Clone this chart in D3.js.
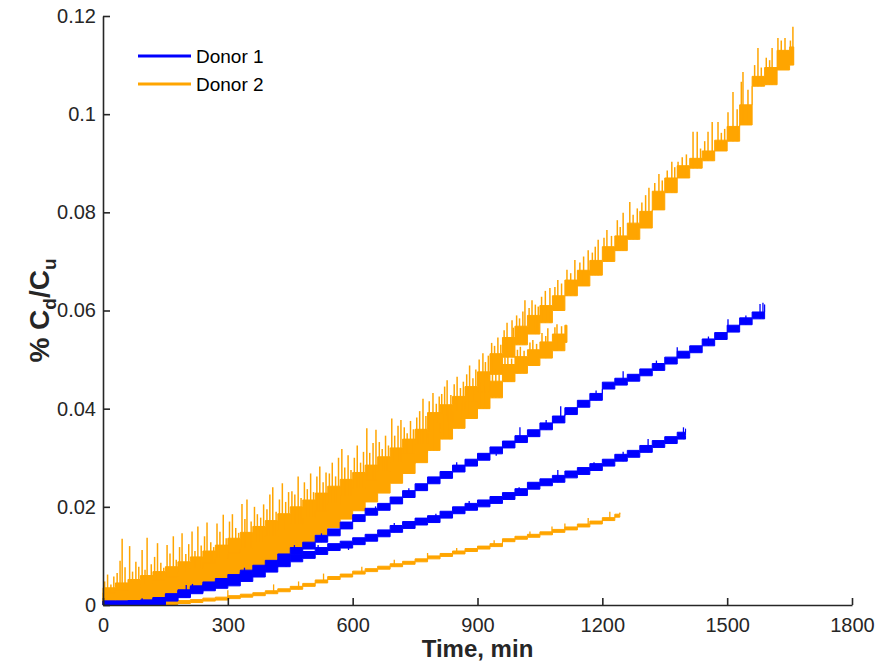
<!DOCTYPE html>
<html>
<head>
<meta charset="utf-8">
<script src="https://cdn.jsdelivr.net/npm/d3@7"></script>
<style>
  html, body { margin: 0; padding: 0; background: #fff; }
  svg { display: block; font-family: "Liberation Sans", Arial, Helvetica, sans-serif; }
</style>
</head>
<body>
<svg id="chart" width="880" height="664"></svg>
<script>
// Axis ticks
const xTicks = [0, 300, 600, 900, 1200, 1500, 1800];
const yTicks = [0, 0.02, 0.04, 0.06, 0.08, 0.1, 0.12];
const yTickLabels = ["0", "0.02", "0.04", "0.06", "0.08", "0.1", "0.12"];

// Legend entries
const seriesNames = ["Donor 1", "Donor 2"];

// Each run: [time (min), lower edge of the noise band, upper edge of the band]
const donor1RunA = [
  [0,0,0.0008],[30,0,0.0008],[60,0,0.0009],[90,0,0.0010],[120,0.0001,0.0015],[150,0.0009,0.0023],
  [180,0.0017,0.0031],[210,0.0025,0.0039],[240,0.0033,0.0047],[270,0.0040,0.0054],[300,0.0048,0.0062],
  [330,0.0057,0.0071],[360,0.0067,0.0081],[390,0.0077,0.0091],[420,0.0090,0.0104],[450,0.0103,0.0117],
  [480,0.0114,0.0128],[510,0.0128,0.0142],[540,0.0141,0.0155],[570,0.0155,0.0169],[600,0.0170,0.0184],
  [630,0.0183,0.0197],[660,0.0193,0.0207],[690,0.0206,0.0220],[720,0.0219,0.0233],[750,0.0233,0.0247],
  [780,0.0247,0.0261],[810,0.0258,0.0272],[840,0.0271,0.0285],[870,0.0283,0.0297],[900,0.0295,0.0309],
  [930,0.0308,0.0322],[960,0.0320,0.0334],[990,0.0331,0.0345],[1020,0.0343,0.0357],[1050,0.0357,0.0371],
  [1080,0.0371,0.0385],[1110,0.0388,0.0402],[1140,0.0403,0.0417],[1170,0.0417,0.0431],[1200,0.0440,0.0454],
  [1230,0.0448,0.0462],[1260,0.0456,0.0470],[1290,0.0467,0.0481],[1320,0.0478,0.0492],[1350,0.0491,0.0505],
  [1380,0.0503,0.0517],[1410,0.0514,0.0528],[1440,0.0528,0.0542],[1470,0.0541,0.0555],[1500,0.0556,0.0570],
  [1530,0.0571,0.0585],[1560,0.0583,0.0597],[1590,0.0598,0.0612]
];
const donor1RunB = [
  [0,0,0.0008],[30,0,0.0008],[60,0,0.0008],[90,0,0.0010],[120,0.0001,0.0015],[150,0.0008,0.0022],
  [180,0.0015,0.0029],[210,0.0023,0.0037],[240,0.0029,0.0043],[270,0.0034,0.0048],[300,0.0039,0.0053],
  [330,0.0048,0.0062],[360,0.0057,0.0071],[390,0.0067,0.0081],[420,0.0078,0.0092],[450,0.0088,0.0102],
  [480,0.0095,0.0109],[510,0.0103,0.0117],[540,0.0111,0.0125],[570,0.0116,0.0130],[600,0.0123,0.0137],
  [630,0.0130,0.0144],[660,0.0139,0.0153],[690,0.0148,0.0162],[720,0.0156,0.0170],[750,0.0163,0.0177],
  [780,0.0168,0.0182],[810,0.0177,0.0191],[840,0.0186,0.0200],[870,0.0193,0.0207],[900,0.0200,0.0214],
  [930,0.0207,0.0221],[960,0.0215,0.0229],[990,0.0223,0.0237],[1020,0.0236,0.0250],[1050,0.0243,0.0257],
  [1080,0.0250,0.0264],[1110,0.0259,0.0273],[1140,0.0266,0.0280],[1170,0.0274,0.0288],[1200,0.0283,0.0297],
  [1230,0.0293,0.0307],[1260,0.0301,0.0315],[1290,0.0311,0.0325],[1320,0.0321,0.0335],[1350,0.0329,0.0343],
  [1380,0.0338,0.0352],[1400,0.0345,0.0359]
];
const donor2RunA = [
  [0,0,0.0035],[30,0.0003,0.0045],[60,0.0007,0.0052],[90,0.0012,0.0060],[120,0.0018,0.0068],[150,0.0025,0.0078],
  [180,0.0033,0.0088],[210,0.0042,0.0098],[240,0.0052,0.0110],[270,0.0062,0.0122],[300,0.0072,0.0136],
  [330,0.0082,0.0148],[360,0.0094,0.0160],[390,0.0106,0.0172],[420,0.0120,0.0186],[450,0.0135,0.0200],
  [480,0.0150,0.0214],[510,0.0166,0.0228],[540,0.0182,0.0242],[570,0.0198,0.0256],[600,0.0215,0.0270],
  [630,0.0232,0.0285],[660,0.0250,0.0302],[690,0.0268,0.0320],[720,0.0288,0.0338],[750,0.0310,0.0358],
  [780,0.0340,0.0392],[810,0.0360,0.0408],[840,0.0380,0.0425],[870,0.0400,0.0445],[900,0.0430,0.0475],
  [930,0.0470,0.0512],[960,0.0505,0.0545],[990,0.0530,0.0568],[1020,0.0552,0.0590],[1050,0.0575,0.0610],
  [1080,0.0600,0.0630],[1110,0.0630,0.0662],[1140,0.0650,0.0682],[1170,0.0672,0.0702],[1200,0.0700,0.0730],
  [1230,0.0722,0.0752],[1260,0.0745,0.0778],[1290,0.0768,0.0802],[1320,0.0805,0.0843],[1350,0.0840,0.0870],
  [1380,0.0870,0.0895],[1410,0.0890,0.0910],[1440,0.0905,0.0925],[1470,0.0925,0.0947],[1500,0.0945,0.0975],
  [1530,0.0978,0.1019],[1560,0.1057,0.1077],[1590,0.1060,0.1095],[1620,0.1090,0.1130],[1650,0.1100,0.1137],
  [1660,0.1100,0.1137]
];
const donor2RunB = [
  [0,0,0.0025],[30,0,0.0030],[60,0.0002,0.0036],[90,0.0005,0.0042],[120,0.0009,0.0050],[150,0.0014,0.0058],
  [180,0.0021,0.0066],[210,0.0028,0.0075],[240,0.0037,0.0085],[270,0.0046,0.0095],[300,0.0056,0.0105],
  [330,0.0066,0.0116],[360,0.0077,0.0128],[390,0.0089,0.0140],[420,0.0101,0.0152],[450,0.0114,0.0165],
  [480,0.0128,0.0178],[510,0.0143,0.0192],[540,0.0158,0.0206],[570,0.0175,0.0222],[600,0.0192,0.0238],
  [630,0.0210,0.0255],[660,0.0228,0.0272],[690,0.0248,0.0290],[720,0.0268,0.0308],[750,0.0290,0.0328],
  [780,0.0315,0.0352],[810,0.0338,0.0372],[840,0.0360,0.0395],[870,0.0380,0.0414],[900,0.0400,0.0434],
  [930,0.0422,0.0456],[960,0.0455,0.0490],[990,0.0472,0.0506],[1020,0.0488,0.0520],[1050,0.0503,0.0536],
  [1080,0.0518,0.0552],[1110,0.0535,0.0570],[1115,0.0535,0.0570]
];
const donor2RunC = [
  [60,0,0.0004],[90,0,0.0005],[120,0,0.0005],[150,0.0001,0.0007],[180,0.0003,0.0009],[210,0.0005,0.0011],
  [240,0.0008,0.0014],[270,0.0010,0.0016],[300,0.0013,0.0019],[330,0.0016,0.0022],[360,0.0019,0.0025],
  [390,0.0023,0.0029],[420,0.0027,0.0033],[450,0.0032,0.0038],[480,0.0038,0.0044],[510,0.0045,0.0051],
  [540,0.0052,0.0058],[570,0.0057,0.0063],[600,0.0063,0.0069],[630,0.0068,0.0074],[660,0.0073,0.0079],
  [690,0.0078,0.0084],[720,0.0083,0.0089],[750,0.0088,0.0094],[780,0.0094,0.0100],[810,0.0099,0.0105],
  [840,0.0104,0.0110],[870,0.0109,0.0115],[900,0.0114,0.0120],[930,0.0119,0.0125],[960,0.0129,0.0135],
  [990,0.0134,0.0140],[1020,0.0138,0.0144],[1050,0.0143,0.0149],[1080,0.0148,0.0154],[1110,0.0153,0.0159],
  [1140,0.0159,0.0165],[1170,0.0165,0.0171],[1200,0.0172,0.0178],[1230,0.0179,0.0185],[1242,0.0182,0.0188]
];

// Short transient excursions: [time (min), peak value]
const donor1PeaksA = [
  [94,0.0014],[215,0.0043],[340,0.0076],[460,0.0122],[525,0.0146],[655,0.0201],[735,0.0238],[850,0.0291],
  [945,0.0304],[1002,0.0362],[1065,0.0377],[1100,0.0405],[1185,0.0437],[1250,0.0476],[1330,0.0498],
  [1380,0.0525],[1455,0.0547],[1502,0.0582],[1545,0.0590],[1579,0.0613],[1586,0.0616]
];
const donor1PeaksB = [
  [200,0.0041],[330,0.0066],[440,0.0097],[517,0.0122],[590,0.0112],[700,0.0167],[800,0.0186],[880,0.0212],
  [1000,0.0240],[1093,0.0275],[1180,0.0291],[1250,0.0312],[1310,0.0338],[1395,0.0362]
];
const donor2PeaksA = [
  [4,0.0048],[11,0.0062],[19,0.0042],[26,0.0058],[34,0.0065],[41,0.0090],[46,0.0135],[53,0.0077],
  [64,0.0120],[71,0.0068],[79,0.0088],[86,0.0078],[94,0.0112],[101,0.0072],[106,0.0137],[116,0.0083],
  [124,0.0098],[131,0.0126],[139,0.0086],[146,0.0076],[154,0.0122],[161,0.0105],[169,0.0140],[176,0.0092],
  [184,0.0118],[190,0.0146],[199,0.0104],[206,0.0124],[214,0.0150],[221,0.0110],[228,0.0160],[236,0.0121],
  [244,0.0140],[250,0.0168],[259,0.0128],[266,0.0118],[274,0.0166],[281,0.0149],[289,0.0184],[296,0.0136],
  [304,0.0170],[311,0.0185],[319,0.0157],[326,0.0147],[334,0.0206],[341,0.0175],[346,0.0215],[356,0.0170],
  [364,0.0200],[371,0.0185],[379,0.0178],[386,0.0205],[394,0.0195],[401,0.0225],[408,0.0240],[416,0.0190],
  [424,0.0215],[431,0.0248],[439,0.0210],[446,0.0230],[454,0.0232],[461,0.0225],[469,0.0262],[476,0.0218],
  [484,0.0250],[491,0.0236],[499,0.0268],[506,0.0230],[514,0.0262],[521,0.0282],[529,0.0250],[536,0.0270],
  [544,0.0268],[551,0.0290],[559,0.0262],[566,0.0300],[574,0.0318],[581,0.0280],[589,0.0305],[596,0.0275],
  [604,0.0300],[611,0.0325],[619,0.0290],[626,0.0312],[634,0.0360],[641,0.0310],[649,0.0330],[656,0.0357],
  [664,0.0332],[671,0.0318],[679,0.0345],[686,0.0325],[694,0.0380],[701,0.0345],[709,0.0365],[716,0.0377],
  [724,0.0362],[731,0.0350],[739,0.0375],[746,0.0358],[754,0.0382],[761,0.0395],[769,0.0420],[776,0.0385],
  [784,0.0415],[793,0.0432],[801,0.0410],[808,0.0425],[814,0.0430],[821,0.0445],[827,0.0458],[836,0.0428],
  [844,0.0450],[851,0.0465],[859,0.0442],[866,0.0455],[874,0.0470],[881,0.0488],[889,0.0462],[896,0.0480],
  [904,0.0500],[913,0.0513],[919,0.0495],[926,0.0508],[934,0.0534],[941,0.0528],[949,0.0545],[956,0.0530],
  [964,0.0560],[971,0.0575],[983,0.0580],[986,0.0565],[994,0.0590],[1001,0.0584],[1009,0.0598],[1014,0.0621],
  [1024,0.0605],[1031,0.0621],[1039,0.0612],[1046,0.0608],[1054,0.0628],[1063,0.0640],[1074,0.0646],
  [1086,0.0648],[1093,0.0662],[1102,0.0655],[1115,0.0683],[1124,0.0676],[1134,0.0703],[1146,0.0698],
  [1155,0.0710],[1166,0.0723],[1176,0.0718],[1183,0.0730],[1190,0.0744],[1204,0.0748],[1211,0.0764],
  [1222,0.0752],[1236,0.0784],[1243,0.0770],[1250,0.0799],[1266,0.0821],[1274,0.0795],[1284,0.0808],
  [1295,0.0820],[1304,0.0835],[1312,0.0850],[1326,0.0860],[1336,0.0878],[1344,0.0865],[1356,0.0885],
  [1367,0.0903],[1374,0.0892],[1382,0.0903],[1392,0.0912],[1402,0.0918],[1418,0.0964],[1428,0.0964],
  [1436,0.0930],[1446,0.0945],[1454,0.0964],[1464,0.0984],[1478,0.0984],[1486,0.0962],[1494,0.0970],
  [1502,0.1004],[1514,0.1045],[1524,0.1010],[1534,0.1066],[1538,0.1086],[1550,0.1050],[1566,0.1100],
  [1574,0.1135],[1582,0.1095],[1594,0.1115],[1602,0.1110],[1608,0.1135],[1622,0.1155],[1630,0.1150],
  [1639,0.1155],[1652,0.1150],[1658,0.1178]
];
const donor2PeaksB = [
  [786,0.0368],[795,0.0380],[803,0.0372],[816,0.0390],[824,0.0385],[833,0.0398],[846,0.0410],[855,0.0425],
  [863,0.0412],[876,0.0430],[884,0.0440],[893,0.0428],[905,0.0455],[914,0.0448],[922,0.0462],[936,0.0472],
  [944,0.0480],[952,0.0470],[966,0.0505],[973,0.0513],[982,0.0502],[996,0.0520],[1003,0.0526],[1012,0.0518],
  [1026,0.0535],[1033,0.0540],[1042,0.0532],[1055,0.0554],[1064,0.0548],[1069,0.0564],[1086,0.0566],
  [1091,0.0572],[1102,0.0568]
];
const donor2PeaksC = [
  [300,0.0030],[410,0.0042],[470,0.0048],[530,0.0064],[622,0.0078],[700,0.0092],[780,0.0106],[850,0.0116],
  [940,0.0132],[1026,0.0150],[1079,0.0160],[1110,0.0166],[1166,0.0177],[1218,0.0190]
];

const seriesColors = ["#0000FF", "#FFA500"];

const svg = d3.select("#chart");
const margin = { left: 103, right: 28, top: 16, bottom: 59 };
const W = 880, H = 664;

const x = d3.scaleLinear().domain([0, 1800]).range([margin.left, W - margin.right]);
const y = d3.scaleLinear().domain([0, 0.12]).range([H - margin.bottom, margin.top]);

const band = d3.area()
  .curve(d3.curveStepAfter)
  .x(d => x(d[0]))
  .y0(d => y(d[1]))
  .y1(d => y(d[2]));

const bisectTime = d3.bisector(d => d[0]).right;

function drawRun(run, peaks, color, peakWidth) {
  const g = svg.append("g");
  g.append("path")
    .datum(run)
    .attr("d", band)
    .attr("fill", color)
    .attr("stroke", color)
    .attr("stroke-width", 1)
    .attr("stroke-linejoin", "miter");
  // Each excursion leaves the band from its level at that time
  g.selectAll("line")
    .data(peaks)
    .join("line")
    .attr("x1", d => x(d[0]))
    .attr("x2", d => x(d[0]))
    .attr("y1", d => {
      const i = Math.max(0, bisectTime(run, d[0]) - 1);
      return y(run[i][1]);
    })
    .attr("y2", d => y(d[1]))
    .attr("stroke", color)
    .attr("stroke-width", peakWidth);
}

// Donor 2 runs first, Donor 1 runs on top
drawRun(donor2RunA, donor2PeaksA, seriesColors[1], 1.5);
drawRun(donor2RunB, donor2PeaksB, seriesColors[1], 1.5);
drawRun(donor2RunC, donor2PeaksC, seriesColors[1], 1.3);
drawRun(donor1RunA, donor1PeaksA, seriesColors[0], 1.3);
drawRun(donor1RunB, donor1PeaksB, seriesColors[0], 1.3);

// Axes (inward ticks, box off)
const axisColor = "#262626";
const xAxis = svg.append("g")
  .attr("transform", `translate(0,${y(0)})`)
  .call(d3.axisBottom(x).tickValues(xTicks).tickFormat(d3.format("d"))
    .tickSizeInner(-7).tickSizeOuter(0).tickPadding(13));
const yAxis = svg.append("g")
  .attr("transform", `translate(${x(0)},0)`)
  .call(d3.axisLeft(y).tickValues(yTicks).tickFormat((d, i) => yTickLabels[i])
    .tickSizeInner(-7).tickSizeOuter(0).tickPadding(7));

[xAxis, yAxis].forEach(a => {
  a.select(".domain").attr("stroke", axisColor).attr("stroke-width", 1.6);
  a.selectAll(".tick line").attr("stroke", axisColor).attr("stroke-width", 1.6);
  a.selectAll(".tick text")
    .attr("fill", axisColor)
    .style("font-size", "20px")
    .style("font-family", "'Liberation Sans', Arial, sans-serif");
});

// Axis titles
svg.append("text")
  .attr("x", (x(0) + x(1800)) / 2)
  .attr("y", 657)
  .attr("text-anchor", "middle")
  .attr("fill", axisColor)
  .style("font-size", "24px")
  .style("font-weight", "bold")
  .text("Time, min");

const yTitle = svg.append("text")
  .attr("transform", `translate(49,${(y(0) + y(0.12)) / 2}) rotate(-90)`)
  .attr("text-anchor", "middle")
  .attr("fill", axisColor)
  .style("font-size", "28px")
  .style("font-weight", "bold");
yTitle.append("tspan").text("% C");
yTitle.append("tspan").attr("dy", 7).style("font-size", "19px").text("d");
yTitle.append("tspan").attr("dy", -7).text("/C");
yTitle.append("tspan").attr("dy", 7).style("font-size", "19px").text("u");

// Legend
const legend = svg.append("g");
seriesNames.forEach((name, i) => {
  const ly = 56 + i * 28;
  legend.append("line")
    .attr("x1", 138).attr("x2", 191)
    .attr("y1", ly).attr("y2", ly)
    .attr("stroke", seriesColors[i])
    .attr("stroke-width", 3);
  legend.append("text")
    .attr("x", 196).attr("y", ly + 6.5)
    .attr("fill", "#000")
    .style("font-size", "19px")
    .text(name);
});
</script>
</body>
</html>
